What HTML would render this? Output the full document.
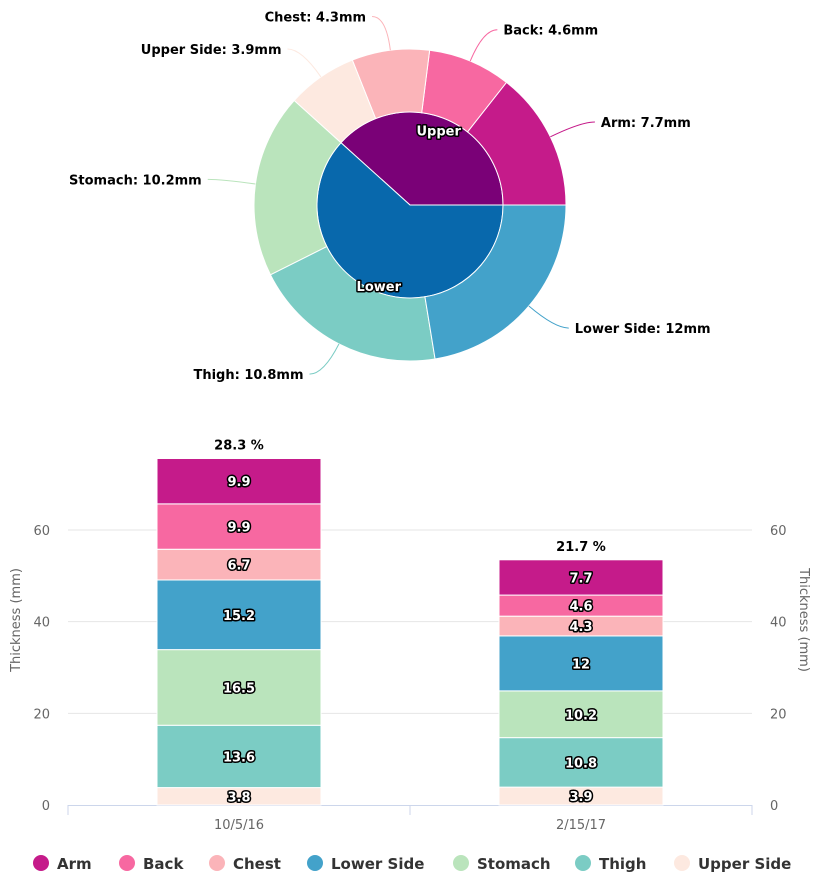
<!DOCTYPE html>
<html><head><meta charset="utf-8"><style>
body{margin:0;background:#fff;font-family:"DejaVu Sans","Liberation Sans",sans-serif;}
svg text{font-family:"DejaVu Sans","Liberation Sans",sans-serif;}
.dl{fill:#fff;font-weight:bold;font-size:13px;stroke:#000;stroke-width:3px;paint-order:stroke;stroke-linejoin:round;}
</style></head><body>
<svg id="c" width="820" height="879" xmlns="http://www.w3.org/2000/svg"></svg>
<script>
const categories=['Arm','Back','Chest','Lower Side','Stomach','Thigh','Upper Side'];
const colors=['#c51b8a','#f768a1','#fbb4b9','#43a2ca','#bae4bc','#7bccc4','#fde9e0'];
const dates=['10/5/16','2/15/17'];
const values1=[9.9,9.9,6.7,15.2,16.5,13.6,3.8];
const values2=[7.7,4.6,4.3,12,10.2,10.8,3.9];
const percents=['28.3 %','21.7 %'];
const yTicks=[0,20,40,60];
const innerNames=['Upper','Lower'];
const innerColors=['#7a0177','#0868ac'];
const pieOrder=[0,1,2,6,4,5,3];
const stackOrder=[6,5,4,3,2,1,0];
const NS='http://www.w3.org/2000/svg';
const svg=document.getElementById('c');
function mk(t,a,p){const e=document.createElementNS(NS,t);for(const k in a)e.setAttribute(k,a[k]);(p||svg).appendChild(e);return e;}
const cx=410,cy=205,R=156,r=93;
function pt(rad,ang){return [cx+rad*Math.cos(ang),cy-rad*Math.sin(ang)];}
function arc(r0,r1,a0,a1){const p0=pt(r1,a0),p1=pt(r1,a1),q1=pt(r0,a1),q0=pt(r0,a0);const l=(a1-a0)>Math.PI?1:0;
 if(r0===0)return `M${cx},${cy}L${p0}A${r1},${r1} 0 ${l} 0 ${p1}Z`;
 return `M${p0}A${r1},${r1} 0 ${l} 0 ${p1}L${q1}A${r0},${r0} 0 ${l} 1 ${q0}Z`;}
const total=values2.reduce((a,b)=>a+b,0);
const upperIdx=[0,1,2,6];
let upperSum=upperIdx.reduce((s,i)=>s+values2[i],0);
const innerVals=[upperSum,total-upperSum];
let a=0;
innerVals.forEach((v,i)=>{const a1=a+v/total*2*Math.PI;
 const p=mk('path',{d:arc(0,r,a,a1),fill:innerColors[i],stroke:'#fff','stroke-width':1});
 
 
 a=a1;});
a=0;
pieOrder.forEach(i=>{const v=values2[i];const a1=a+v/total*2*Math.PI;
 const p=mk('path',{d:arc(r,R,a,a1),fill:colors[i],stroke:'#fff','stroke-width':1});
 
 
 const m=(a+a1)/2;const s=pt(R,m),e=pt(R+34,m);const right=Math.cos(m)>=0;
 const ex=e[0]+(right?14:-14);
 mk('path',{d:`M${s}Q${e} ${ex},${e[1]}`,fill:'none',stroke:colors[i],'stroke-width':1});
 const t=mk('text',{x:ex+(right?6:-6),y:e[1]+5,'text-anchor':right?'start':'end','font-size':13,'font-weight':'bold',fill:'#000'});
 t.textContent=categories[i]+': '+v+'mm';
 
 
 a=a1;});
a=0;
innerVals.forEach((v,i)=>{const a1=a+v/total*2*Math.PI;const m=(a+a1)/2;const q=pt(i===0?80:87,m);
 const t=mk('text',{x:q[0],y:q[1]+5,class:'dl','text-anchor':'middle'});t.textContent=innerNames[i];
 
 
 a=a1;});
const x0=68,x1=752,yBase=805,pxPerUnit=275/60;
const yS=v=>yBase-v*pxPerUnit;
yTicks.forEach(v=>{const y=yS(v);
 if(v>0)mk('line',{x1:x0,x2:x1,y1:y,y2:y,stroke:'#e6e6e6'});
 const t=mk('text',{x:50,y:y+5,'text-anchor':'end','font-size':13,fill:'#666'});t.textContent=v;
 
 const t2=mk('text',{x:770,y:y+5,'text-anchor':'start','font-size':13,fill:'#666'});t2.textContent=v;
 });
mk('line',{x1:x0,x2:x1,y1:yBase+0.5,y2:yBase+0.5,stroke:'#ccd6eb'});
[x0,(x0+x1)/2,x1].forEach(x=>mk('line',{x1:x,x2:x,y1:yBase,y2:yBase+10,stroke:'#ccd6eb'}));
let t=mk('text',{x:20,y:620,transform:'rotate(-90 20 620)','text-anchor':'middle','font-size':13,fill:'#666'});t.textContent='Thickness (mm)';

t=mk('text',{x:800,y:620,transform:'rotate(90 800 620)','text-anchor':'middle','font-size':13,fill:'#666'});t.textContent='Thickness (mm)';

const series=[values1,values2];const bw=164;const slot=(x1-x0)/2;
series.forEach((vals,j)=>{const cxb=x0+slot*(j+0.5);let cum=0;
 stackOrder.forEach(i=>{const v=vals[i];const yT=yS(cum+v),yB=yS(cum);
  const rc=mk('rect',{x:cxb-bw/2,y:yT,width:bw,height:yB-yT,fill:colors[i],stroke:'#fff','stroke-width':1});
  
  
  const l=mk('text',{x:cxb,y:(yT+yB)/2+5,class:'dl','text-anchor':'middle'});l.textContent=v;
  
  cum+=v;});
 const p=mk('text',{x:cxb,y:yS(cum)-9,'text-anchor':'middle','font-size':13,'font-weight':'bold',fill:'#000'});p.textContent=percents[j];
 
 const d=mk('text',{x:cxb,y:yBase+24,'text-anchor':'middle','font-size':13,fill:'#666'});d.textContent=dates[j];
 });
const legX=[41,127,217,315,461,583,682];
categories.forEach((c,i)=>{const g=mk('g',{});
 
 
 mk('circle',{cx:legX[i],cy:863,r:8,fill:colors[i]},g);
 const tt=mk('text',{x:legX[i]+16,y:869,'font-size':15,'font-weight':'bold',fill:'#333'},g);tt.textContent=c;});
</script>
</body></html>
